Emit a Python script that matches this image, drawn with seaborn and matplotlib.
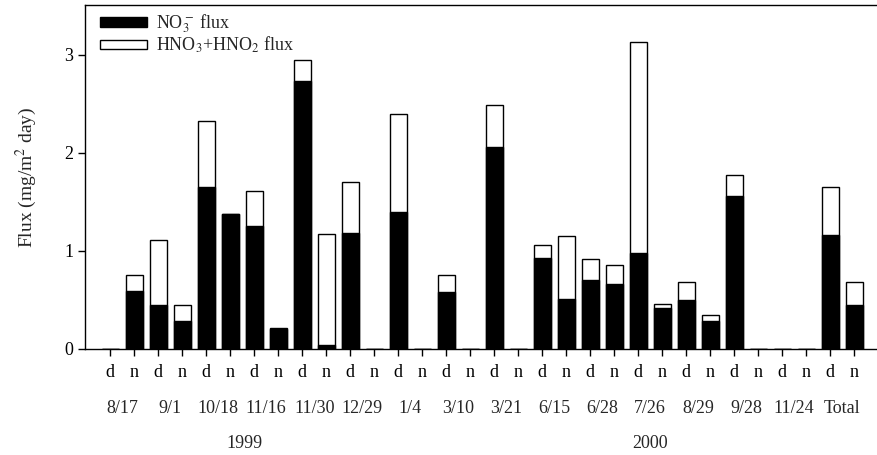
"""Stacked day/night nitrate flux bars, 1999-2000."""
import matplotlib
matplotlib.use("Agg")
import matplotlib.pyplot as plt
import matplotlib.transforms as mtransforms
from matplotlib.patches import Patch
import numpy as np
import pandas as pd
import seaborn as sns

dates = ["8/17", "9/1", "10/18", "11/16", "11/30", "12/29", "1/4", "3/10",
         "3/21", "6/15", "6/28", "7/26", "8/29", "9/28", "11/24", "Total"]
periods = ["d", "n"]

# NO3- flux (black part), one value per d/n slot
no3_flux = [0.0, 0.59, 0.45, 0.29, 1.65, 1.38, 1.26, 0.20,
            2.73, 0.04, 1.18, 0.0, 1.40, 0.0, 0.58, 0.0,
            2.06, 0.0, 0.93, 0.51, 0.70, 0.66, 0.98, 0.42,
            0.50, 0.29, 1.56, 0.0, 0.0, 0.0, 1.16, 0.45]
# NO3- + HNO3 + HNO2 flux (top of the stacked bar)
total_flux = [0.0, 0.76, 1.11, 0.45, 2.33, 1.38, 1.61, 0.21,
              2.95, 1.17, 1.70, 0.0, 2.40, 0.0, 0.75, 0.0,
              2.49, 0.0, 1.06, 1.15, 0.92, 0.86, 3.13, 0.46,
              0.68, 0.35, 1.78, 0.0, 0.0, 0.0, 1.65, 0.68]

years = ["1999", "2000"]
year_pos = [5.6, 22.5]

slots = [f"{d} {p}" for d in dates for p in periods]
df = pd.DataFrame({"slot": slots, "no3": no3_flux, "total": total_flux})

sns.set_style("ticks")
plt.rcParams["font.family"] = ["Liberation Serif", "DejaVu Serif"]
plt.rcParams["mathtext.fontset"] = "stix"
FS = 13

fig = plt.figure(figsize=(8.77, 4.55), dpi=100)
ax = fig.add_axes([0.097, 0.233, 0.903, 0.756])

sns.barplot(data=df, x="slot", y="total", order=slots, color="white",
            edgecolor="black", linewidth=1.0, width=0.7, saturation=1, ax=ax)
sns.barplot(data=df, x="slot", y="no3", order=slots, color="black",
            edgecolor="black", linewidth=1.0, width=0.7, saturation=1, ax=ax)

ax.set_xlim(-1.05, 31.95)
ax.set_ylim(0, 3.51)
ax.set_yticks([0, 1, 2, 3])
ax.set_xticks(range(len(slots)))
ax.set_xticklabels([s.split()[1] for s in slots], fontsize=FS)
ax.tick_params(axis="both", direction="out", length=5, width=1, labelsize=FS,
               color="black", labelcolor="black")
ax.tick_params(axis="x", pad=6)
ax.set_xlabel("")
ax.set_ylabel("Flux (mg/m$^2$ day)", fontsize=FS + 1, labelpad=18)

for side in ["left", "top", "bottom"]:
    ax.spines[side].set_visible(True)
    ax.spines[side].set_color("black")
    ax.spines[side].set_linewidth(1.0)
ax.spines["right"].set_visible(False)

trans = mtransforms.blended_transform_factory(ax.transData, ax.transAxes)
for i, d in enumerate(dates):
    ax.text(2 * i + 0.5, -0.172, d, transform=trans, ha="center", va="center",
            fontsize=FS)
for pos, yr in zip(year_pos, years):
    ax.text(pos, -0.275, yr, transform=trans, ha="center", va="center",
            fontsize=FS)

handles = [Patch(facecolor="black", edgecolor="black", label="NO$_3^-$ flux"),
           Patch(facecolor="white", edgecolor="black", label="HNO$_3$+HNO$_2$ flux")]
ax.legend(handles=handles, loc="upper left", frameon=False, fontsize=FS,
          handlelength=2.6, handleheight=0.45, handletextpad=0.5,
          labelspacing=0.0, borderaxespad=0.0, bbox_to_anchor=(0.01, 1.0))

fig.savefig("out.png", dpi=100)
